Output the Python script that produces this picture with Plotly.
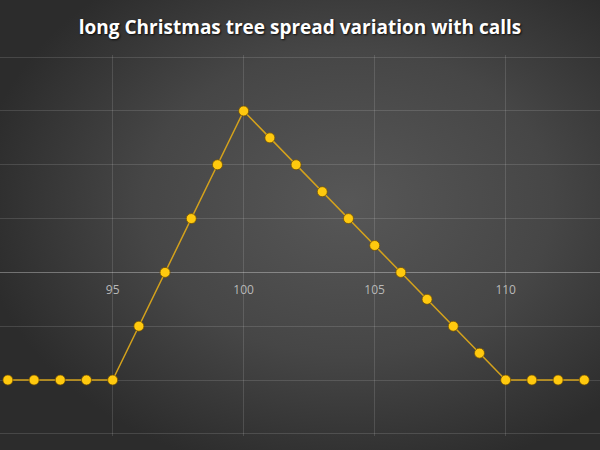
import base64
import plotly.graph_objects as go

# underlying price vs profit/loss
prices = [91, 92, 93, 94, 95, 96, 97, 98, 99, 100, 101, 102,
          103, 104, 105, 106, 107, 108, 109, 110, 111, 112, 113]
payoff = [-2, -2, -2, -2, -2, -1, 0, 1, 2, 3, 2.5, 2,
          1.5, 1, 0.5, 0, -0.5, -1, -1.5, -2, -2, -2, -2]
x_ticks = [95, 100, 105, 110]

title = "long Christmas tree spread variation with calls"

# radial gradient background as an svg image
svg = (
    '<svg xmlns="http://www.w3.org/2000/svg" width="600" height="450">'
    '<defs><radialGradient id="g" cx="0.58" cy="0.45" r="0.62">'
    '<stop offset="0" stop-color="#575757"/>'
    '<stop offset="0.55" stop-color="#464646"/>'
    '<stop offset="1" stop-color="#2c2c2c"/>'
    '</radialGradient></defs>'
    '<rect width="600" height="450" fill="url(#g)"/></svg>'
)
bg_src = "data:image/svg+xml;base64," + base64.b64encode(svg.encode()).decode()

fig = go.Figure()
fig.add_trace(go.Scatter(
    x=prices, y=payoff, mode="lines+markers",
    line=dict(color="#D4A21C", width=1.5),
    marker=dict(size=10, color="#FFC90E",
                line=dict(color="rgba(110,75,0,0.7)", width=1)),
    showlegend=False,
))

top, bottom = 55, 14
plot_h = 450 - top - bottom
y_lo, y_hi = -3.04, 4.04

fig.update_layout(
    width=600, height=450,
    margin=dict(l=0, r=0, t=top, b=bottom),
    paper_bgcolor="#333333",
    plot_bgcolor="rgba(0,0,0,0)",
    title=dict(text="<b>" + title + "</b>", x=0.5, xanchor="center",
               y=1 - 27 / 450, yanchor="middle",
               font=dict(family="Open Sans", size=19, color="white",
                         shadow="1px 1px 2px rgba(0,0,0,0.8)")),
    xaxis=dict(range=[90.7, 113.6], tickvals=x_ticks,
               showgrid=True, gridcolor="rgba(255,255,255,0.13)", gridwidth=1,
               zeroline=False, showline=False,
               anchor="free", position=-y_lo / (y_hi - y_lo),
               ticks="outside", ticklen=6, tickcolor="rgba(0,0,0,0)",
               tickfont=dict(family="Open Sans", size=12, color="#b8b8b8")),
    yaxis=dict(range=[y_lo, y_hi], dtick=1, showticklabels=False,
               showgrid=True, gridcolor="rgba(255,255,255,0.13)", gridwidth=1,
               zeroline=True, zerolinecolor="rgba(255,255,255,0.32)",
               zerolinewidth=1.2),
    images=[dict(source=bg_src, xref="paper", yref="paper",
                 x=0, y=1 + top / plot_h, sizex=1, sizey=450 / plot_h,
                 xanchor="left", yanchor="top", sizing="stretch",
                 layer="below")],
)

# drop the page's default body margin so the chart fills the window
fig.write_html("out.html", config={"displayModeBar": False},
               post_script="document.body.style.margin='0';")
